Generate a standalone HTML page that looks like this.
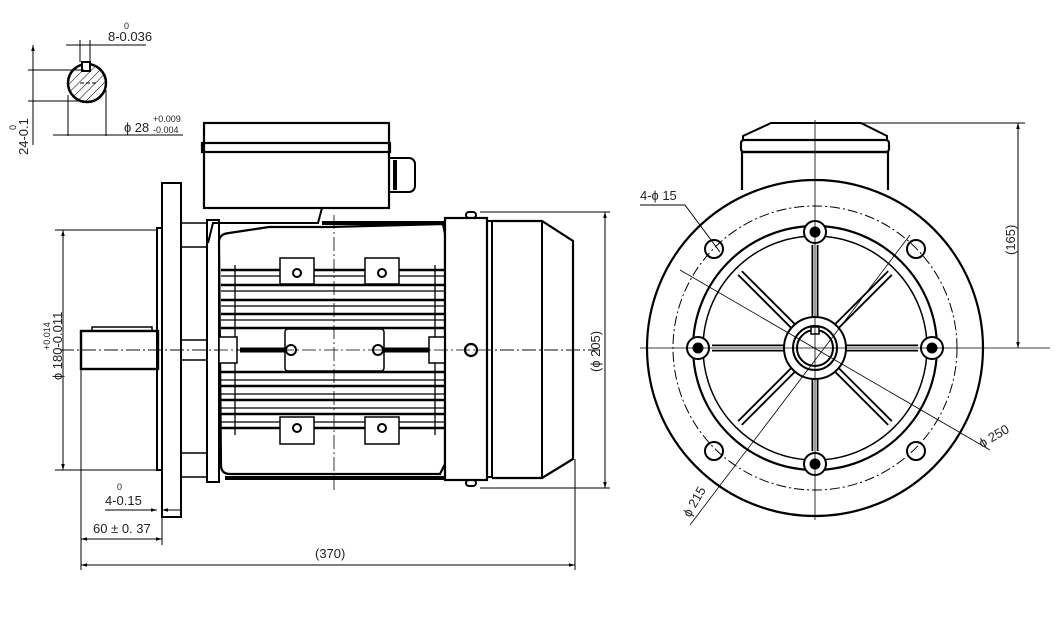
<!DOCTYPE html>
<html><head><meta charset="utf-8"><style>
html,body{margin:0;padding:0;background:#fff;width:1059px;height:638px;overflow:hidden}
svg{display:block}
text{font-family:"Liberation Sans","DejaVu Sans Condensed",sans-serif;fill:#222}
</style></head><body>
<svg width="1059" height="638" viewBox="0 0 1059 638" xmlns="http://www.w3.org/2000/svg">
<defs>
<pattern id="h" width="6" height="6" patternUnits="userSpaceOnUse" patternTransform="rotate(45)"><line x1="0" y1="0" x2="0" y2="6" stroke="#000" stroke-width="1"/></pattern>
<marker id="a" viewBox="0 0 10 10" refX="10" refY="5" markerWidth="8" markerHeight="6" orient="auto-start-reverse"><path d="M0,2 L10,5 L0,8z" fill="#000"/></marker>
</defs>
<g fill="none" stroke="#000" stroke-width="1">
<circle cx="87" cy="83" r="19" fill="url(#h)" stroke-width="2.5"/>
<rect x="82" y="62" width="8" height="9" fill="#fff" stroke-width="2"/>
<line x1="80" y1="40" x2="80" y2="62"/><line x1="90" y1="40" x2="90" y2="62"/>
<line x1="66" y1="45" x2="146" y2="45"/>
<line x1="28" y1="70" x2="84" y2="70"/><line x1="28" y1="101" x2="84" y2="101"/>
<line x1="33" y1="45" x2="33" y2="145" marker-start="url(#a)"/>
<line x1="68" y1="95" x2="68" y2="136"/><line x1="106" y1="90" x2="106" y2="136"/>
<line x1="53" y1="135" x2="183" y2="135"/>
<line x1="80" y1="83" x2="96" y2="83" stroke-dasharray="4 2"/>
<line x1="60" y1="350" x2="600" y2="350" stroke-dasharray="14 3 2 3" stroke-width=".8"/>
<rect x="81" y="331" width="77" height="38" stroke-width="2.4"/>
<rect x="92" y="327" width="60" height="4" stroke-width="1.5"/>
<rect x="157" y="228" width="5" height="242" stroke-width="2"/>
<rect x="162" y="183" width="19" height="334" stroke-width="2"/>
<rect x="181" y="223" width="26" height="24" stroke-width="1.5"/>
<rect x="181" y="340" width="26" height="20" stroke-width="1.5"/>
<rect x="181" y="453" width="26" height="24" stroke-width="1.5"/>
<rect x="207" y="220" width="12" height="262" stroke-width="2"/>
<rect x="204" y="123" width="185" height="85" stroke-width="2.2"/>
<rect x="202" y="143" width="188" height="9" stroke-width="2.2"/>
<path d="M389 158 h20 a6 6 0 0 1 6 6 v22 a6 6 0 0 1 -6 6 h-20z" stroke-width="2"/>
<line x1="395" y1="160" x2="395" y2="190" stroke-width="4"/>
<path d="M208 208 h114 l-4 15 h-105 l-5 20" stroke-width="2"/>
<path d="M219 242 q0 -8 10 -9 l40 -6 h60 l114 -3 l2 10 v230 l-5 10 h-210 q-9 0 -9 -9z" stroke-width="2.2"/>
<path d="M322 223 h123" stroke-width="4"/>
<path d="M225 478 h220" stroke-width="4"/>
<g stroke-width="2.6">
<line x1="221" y1="270" x2="445" y2="270"/><line x1="221" y1="285" x2="445" y2="285"/>
<line x1="221" y1="300" x2="445" y2="300"/><line x1="221" y1="314" x2="445" y2="314"/>
<line x1="221" y1="328" x2="445" y2="328"/><line x1="221" y1="372" x2="445" y2="372"/>
<line x1="221" y1="386" x2="445" y2="386"/><line x1="221" y1="400" x2="445" y2="400"/>
<line x1="221" y1="414" x2="445" y2="414"/><line x1="221" y1="428" x2="445" y2="428"/>
</g>
<g stroke-width="1.3">
<line x1="221" y1="276" x2="445" y2="276"/><line x1="221" y1="291" x2="445" y2="291"/>
<line x1="221" y1="306" x2="445" y2="306"/><line x1="221" y1="320" x2="445" y2="320"/>
<line x1="221" y1="380" x2="445" y2="380"/><line x1="221" y1="394" x2="445" y2="394"/>
<line x1="221" y1="408" x2="445" y2="408"/><line x1="221" y1="422" x2="445" y2="422"/>
<line x1="235" y1="265" x2="235" y2="435"/><line x1="435" y1="265" x2="435" y2="435"/>
</g>
<g stroke-width="1.5" fill="#fff">
<rect x="280" y="258" width="34" height="26"/><rect x="365" y="258" width="34" height="26"/>
<rect x="280" y="417" width="34" height="27"/><rect x="365" y="417" width="34" height="27"/>
<rect x="285" y="329" width="99" height="42" rx="3"/>
</g>
<g stroke-width="2"><circle cx="297" cy="273" r="4"/><circle cx="382" cy="273" r="4"/><circle cx="297" cy="428" r="4"/><circle cx="382" cy="428" r="4"/>
<circle cx="291" cy="350" r="5"/><circle cx="378" cy="350" r="5"/></g>
<line x1="240" y1="350" x2="285" y2="350" stroke-width="5"/><line x1="384" y1="350" x2="430" y2="350" stroke-width="5"/>
<rect x="219" y="337" width="18" height="26" stroke-width="1.5" fill="#fff"/><rect x="429" y="337" width="16" height="26" stroke-width="1.5" fill="#fff"/>
<line x1="334" y1="215" x2="334" y2="490" stroke-dasharray="14 3 2 3" stroke-width=".8"/>
<rect x="445" y="218" width="42" height="262" stroke-width="2.2" fill="#fff"/>
<rect x="487" y="221" width="5" height="256" stroke-width="2"/>
<path d="M492 221 h50 l31 20 v218 l-31 19 h-50" stroke-width="2.2"/>
<line x1="542" y1="221" x2="542" y2="478" stroke-width="2"/>
<rect x="466" y="212" width="10" height="6" rx="3" stroke-width="2"/><rect x="466" y="480" width="10" height="6" rx="3" stroke-width="2"/>
<circle cx="471" cy="350" r="6" stroke-width="2.2"/>
<line x1="60" y1="350" x2="600" y2="350" stroke-dasharray="14 3 2 3" stroke-width=".8"/>
<line x1="480" y1="212" x2="610" y2="212"/><line x1="480" y1="488" x2="610" y2="488"/>
<line x1="605" y1="212" x2="605" y2="488" marker-start="url(#a)" marker-end="url(#a)"/>
<line x1="55" y1="230" x2="157" y2="230"/><line x1="55" y1="470" x2="157" y2="470"/>
<line x1="63" y1="230" x2="63" y2="470" marker-start="url(#a)" marker-end="url(#a)"/>
<line x1="81" y1="369" x2="81" y2="570"/><line x1="575" y1="459" x2="575" y2="570"/>
<line x1="81" y1="565" x2="575" y2="565" marker-start="url(#a)" marker-end="url(#a)"/>
<line x1="162" y1="517" x2="162" y2="545"/>
<line x1="81" y1="539" x2="162" y2="539" marker-start="url(#a)" marker-end="url(#a)"/>
<line x1="105" y1="510" x2="157" y2="510" marker-end="url(#a)"/><line x1="180" y1="510" x2="162" y2="510" marker-end="url(#a)"/>
<path d="M742 190 v-38 h146 v38" stroke-width="2.2"/>
<rect x="741" y="140" width="148" height="12" rx="3" stroke-width="2.2"/>
<path d="M743 140 v-4 l28 -13 h90 l26 13 v4" stroke-width="2"/>
<circle cx="815" cy="348" r="168" stroke-width="2.2" fill="#fff"/>
<circle cx="815" cy="348" r="142" stroke-dasharray="10 3 2 3"/>
<circle cx="815" cy="348" r="122" stroke-width="2.2"/>
<circle cx="815" cy="348" r="112" stroke-width="1.5"/>
<g stroke-width="7">
<line x1="815" y1="348" x2="815" y2="245"/><line x1="815" y1="348" x2="815" y2="451"/>
<line x1="815" y1="348" x2="712" y2="348"/><line x1="815" y1="348" x2="918" y2="348"/>
<line x1="815" y1="348" x2="740" y2="273"/><line x1="815" y1="348" x2="890" y2="273"/>
<line x1="815" y1="348" x2="740" y2="423"/><line x1="815" y1="348" x2="890" y2="423"/>
</g>
<g stroke="#fff" stroke-width="3.4">
<line x1="815" y1="348" x2="815" y2="245"/><line x1="815" y1="348" x2="815" y2="451"/>
<line x1="815" y1="348" x2="712" y2="348"/><line x1="815" y1="348" x2="918" y2="348"/>
<line x1="815" y1="348" x2="740" y2="273"/><line x1="815" y1="348" x2="890" y2="273"/>
<line x1="815" y1="348" x2="740" y2="423"/><line x1="815" y1="348" x2="890" y2="423"/>
</g>
<circle cx="815" cy="348" r="31" stroke-width="2" fill="#fff"/>
<circle cx="815" cy="348" r="22" stroke-width="2"/><circle cx="815" cy="348" r="18" stroke-width="2"/>
<rect x="811" y="327" width="8" height="7" stroke-width="1.5" fill="#fff"/>
<g stroke-width="2" fill="#fff">
<circle cx="815" cy="232" r="11"/><circle cx="815" cy="464" r="11"/><circle cx="698" cy="348" r="11"/><circle cx="932" cy="348" r="11"/>
</g>
<g fill="#000"><circle cx="815" cy="232" r="5"/><circle cx="815" cy="464" r="5"/><circle cx="698" cy="348" r="5"/><circle cx="932" cy="348" r="5"/></g>
<g stroke-width="2"><circle cx="714" cy="249" r="9"/><circle cx="916" cy="249" r="9"/><circle cx="714" cy="451" r="9"/><circle cx="916" cy="451" r="9"/></g>
<line x1="640" y1="348" x2="1050" y2="348" stroke-width=".8"/>
<line x1="815" y1="120" x2="815" y2="520" stroke-width=".8"/>
<line x1="680" y1="270" x2="990" y2="450" stroke-width=".8"/>
<line x1="910" y1="235" x2="690" y2="525" stroke-width=".8"/>
<line x1="640" y1="205" x2="685" y2="205"/><line x1="685" y1="205" x2="720" y2="252"/>
<line x1="862" y1="123" x2="1025" y2="123"/>
<line x1="1018" y1="123" x2="1018" y2="348" marker-start="url(#a)" marker-end="url(#a)"/>
</g>
<g font-size="13">
<text x="108" y="41">8-0.036</text><text x="124" y="29" font-size="9">0</text>
<text x="124" y="132">ɸ 28</text><text x="153" y="122" font-size="9">+0.009</text><text x="153" y="133" font-size="9">-0.004</text>
<text transform="translate(28,155) rotate(-90)">24-0.1</text><text transform="translate(16,130) rotate(-90)" font-size="9">0</text>
<text transform="translate(62,380) rotate(-90)">ɸ 180-0.011</text>
<text transform="translate(50,350) rotate(-90)" font-size="9">+0.014</text>
<text x="105" y="505">4-0.15</text><text x="117" y="490" font-size="9">0</text>
<text x="93" y="533">60 ± 0. 37</text>
<text x="315" y="558">(370)</text>
<text transform="translate(600,372) rotate(-90)">(ɸ 205)</text>
<text x="640" y="200">4-ɸ 15</text>
<text transform="translate(1015,255) rotate(-90)">(165)</text>
<text transform="translate(982,448) rotate(-30)">ɸ 250</text>
<text transform="translate(690,518) rotate(-60)">ɸ 215</text>
</g>
</svg>
</body></html>
